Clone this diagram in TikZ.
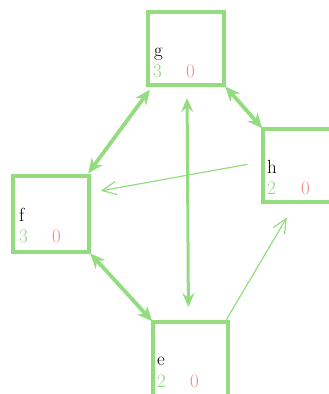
\documentclass[tikz,border=0pt]{standalone}
\usetikzlibrary{arrows.meta,calc}
\definecolor{boxgreen}{RGB}{148,220,128}
\definecolor{numgreen}{RGB}{140,212,128}
\definecolor{zeropink}{RGB}{242,140,128}
\begin{document}
\begin{tikzpicture}[x=1pt,y=-1pt,
  box/.style={draw=boxgreen,line width=3.5pt,outer sep=0pt,inner sep=0pt,anchor=north west,minimum width=76pt,minimum height=73pt},
  txt/.style={inner sep=0pt,anchor=base west,font=\fontsize{19}{19}\selectfont},
  num/.style={txt,text=numgreen},
  zero/.style={txt,text=zeropink},
  bigarrow/.style={draw=boxgreen,line width=3.8pt,{Stealth[length=15pt,width=13pt,inset=5pt]}-{Stealth[length=15pt,width=13pt,inset=5pt]}},
  midarrow/.style={draw=boxgreen,line width=3pt,{Stealth[length=14pt,width=12pt,inset=5pt]}-{Stealth[length=14pt,width=12pt,inset=5pt]}},
  thinarrow/.style={draw=boxgreen,line width=1.2pt,-{Straight Barb[length=14pt,width=13pt,line width=1.2pt]}}
]
\useasboundingbox (0,0) rectangle (329,394);
\clip (0,0) rectangle (329,394);
% boxes
\node[box] (g) at (148,12) {};
\node[box,minimum height=76pt] (f) at (13,176) {};
\node[box,minimum width=80pt] (h) at (263,129) {};
\node[box,minimum width=75pt,minimum height=78pt] (e) at (153,322) {};
% labels
\node[txt] (gl) at ($(g.north west)+(6,44)$) {g};
\node[num] (gn) at ($(g.north west)+(5,65)$) {3};
\node[zero] (gz) at ($(g.north west)+(38,65)$) {0};
\node[txt] (fl) at ($(f.north west)+(6,45)$) {f};
\node[num] (fn) at ($(f.north west)+(6,66)$) {3};
\node[zero] (fz) at ($(f.north west)+(39,66)$) {0};
\node[txt] (hl) at ($(h.north west)+(4,44)$) {h};
\node[num] (hn) at ($(h.north west)+(4,65)$) {2};
\node[zero] (hz) at ($(h.north west)+(38,65)$) {0};
\node[txt] (el) at ($(e.north west)+(4,43)$) {e};
\node[num] (en) at ($(e.north west)+(4,65)$) {2};
\node[zero] (ez) at ($(e.north west)+(37,65)$) {0};
% connectors
\draw[bigarrow,shorten <=2pt,shorten >=2pt] ([shift={(3pt,-3pt)}]g.south west) -- ([shift={(-2pt,1pt)}]f.north east);
\draw[bigarrow,shorten <=2pt,shorten >=1pt] (g.south east) -- (h.north west);
\draw[bigarrow,shorten <=2pt,shorten >=1pt] (f.south east) -- (e.north west);
\draw[midarrow,shorten <=13pt,shorten >=15pt] ([xshift=1pt]g.south) -- ([xshift=-2pt]e.north);
\draw[thinarrow,shorten <=16pt,shorten >=12pt] ([yshift=4pt]h.west) -- ([yshift=21pt]f.east);
\draw[thinarrow,shorten <=2pt,shorten >=18pt] ([xshift=-3pt]e.north east) -- ([xshift=33pt]h.south west);
\end{tikzpicture}
\end{document}
